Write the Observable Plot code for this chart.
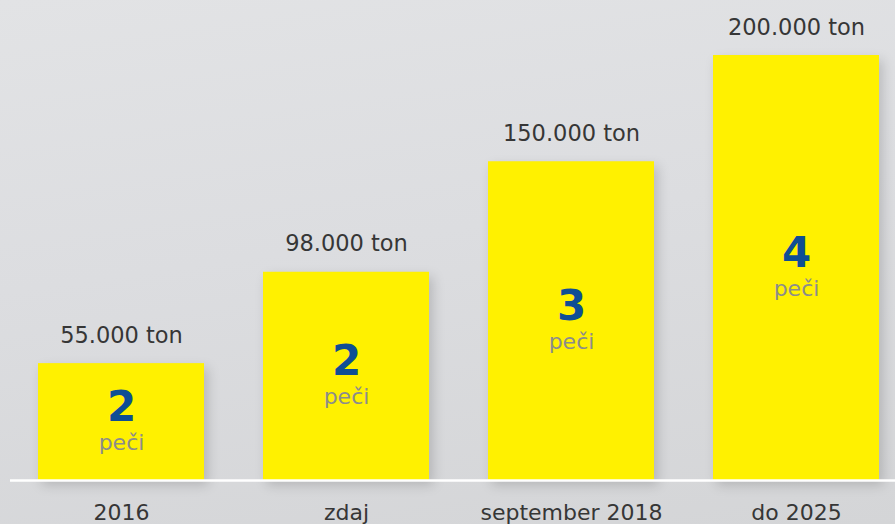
<!DOCTYPE html>
<html>
<head>
<meta charset="utf-8">
<script src="https://cdn.jsdelivr.net/npm/d3@7"></script>
<script src="https://cdn.jsdelivr.net/npm/@observablehq/plot@0.6"></script>
<style>
  html, body { margin: 0; padding: 0; }
  body {
    width: 895px; height: 524px; overflow: hidden;
    background: linear-gradient(172deg, #e2e3e5 0%, #dcdde0 45%, #d4d5d7 100%);
  }
  g[aria-label="bar"] rect { filter: drop-shadow(4px 5px 6px rgba(0,0,0,0.16)); }
</style>
</head>
<body>
<div id="chart"></div>
<script>
const categories = ["2016", "zdaj", "september 2018", "do 2025"];
const tons = [55000, 98000, 150000, 200000];
const furnaces = [2, 2, 3, 4];
const unitLabel = "peči";

const data = categories.map((c, i) => ({cat: c, tons: tons[i], furnaces: furnaces[i]}));
const fmt = v => d3.format(",")(v).replace(/,/g, ".") + " ton";
const FONT = "DejaVu Sans";

const chart = Plot.plot({
  width: 895,
  height: 524,
  marginLeft: 37,
  marginRight: 16,
  marginTop: 55,
  marginBottom: 44,
  style: {background: "transparent", fontFamily: FONT},
  x: {domain: categories, paddingInner: 0.2633, paddingOuter: 0, axis: null},
  y: {domain: [0, 200000], axis: null},
  marks: [
    Plot.barY(data, {x: "cat", y: "tons", fill: "#fff100"}),
    Plot.ruleY([0], {stroke: "#ffffff", strokeWidth: 2.5, insetLeft: -27, insetRight: -16}),
    Plot.text(data, {x: "cat", y: "tons", text: d => fmt(d.tons), lineAnchor: "bottom", dy: -21,
      fontSize: 22.5, fill: "#363636", fontFamily: FONT}),
    Plot.text(data, {x: "cat", y: d => d.tons / 2, text: d => String(d.furnaces), lineAnchor: "bottom", dy: -1,
      fontSize: 42, fontWeight: "bold", fill: "#0f4e94", fontFamily: FONT}),
    Plot.text(data, {x: "cat", y: d => d.tons / 2, text: () => unitLabel, lineAnchor: "bottom", dy: 28,
      fontSize: 22, fill: "#8c8c8c", fontFamily: FONT}),
    Plot.text(data, {x: "cat", y: 0, text: "cat", lineAnchor: "bottom", dy: 39,
      fontSize: 22, fill: "#363636", fontFamily: FONT})
  ]
});
document.getElementById("chart").appendChild(chart);
</script>
</body>
</html>
